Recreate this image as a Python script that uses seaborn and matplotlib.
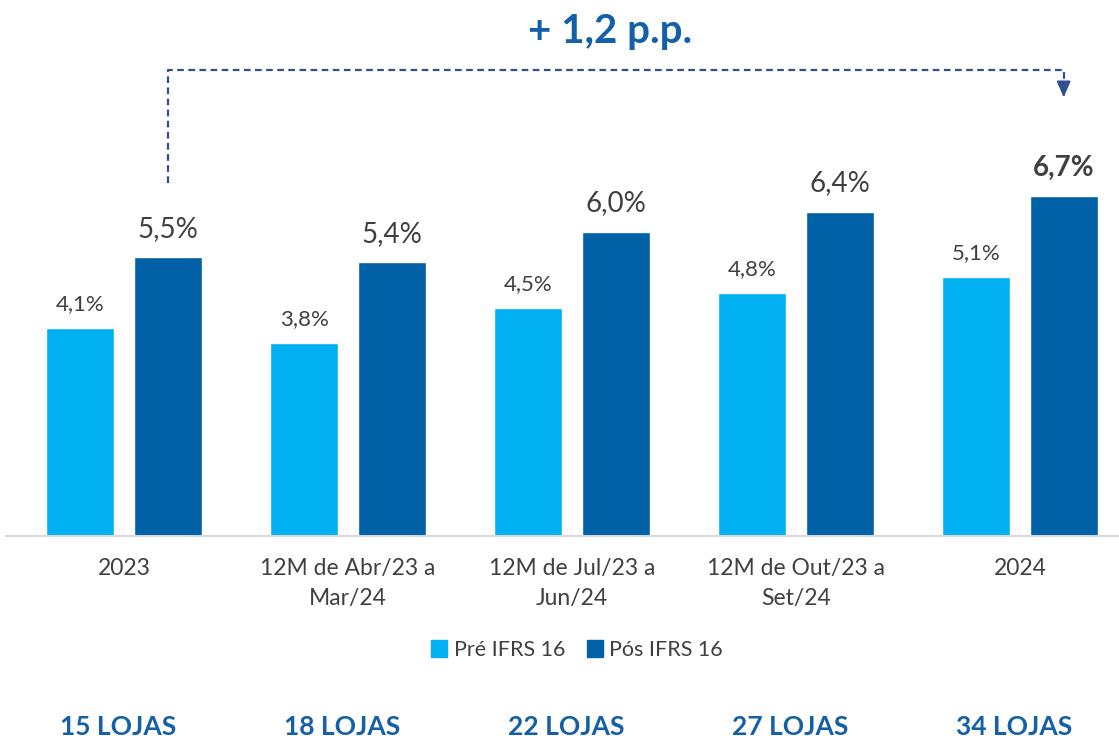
import matplotlib
matplotlib.use("Agg")
import matplotlib.pyplot as plt
import seaborn as sns
import pandas as pd

# data
periodos = ["2023", "12M de Abr/23 a\nMar/24", "12M de Jul/23 a\nJun/24",
            "12M de Out/23 a\nSet/24", "2024"]
pre_ifrs = [4.1, 3.8, 4.5, 4.8, 5.1]
pos_ifrs = [5.5, 5.4, 6.0, 6.4, 6.7]
series = ["Pré IFRS 16", "Pós IFRS 16"]
lojas = ["15 LOJAS", "18 LOJAS", "22 LOJAS", "27 LOJAS", "34 LOJAS"]
delta_txt = "+ 1,2 p.p."

cor_pre = "#00B0F0"
cor_pos = "#0061A6"
cor_txt = "#404040"
cor_azul = "#135FA8"

df = pd.DataFrame({
    "periodo": periodos * 2,
    "valor": pre_ifrs + pos_ifrs,
    "serie": [series[0]] * len(periodos) + [series[1]] * len(periodos),
})

sns.set_theme(style="white")
plt.rcParams["font.family"] = ["Lato", "DejaVu Sans"]

fig = plt.figure(figsize=(11.19, 7.41), dpi=100)
px = 50.7  # pixels per percentage point
ax = fig.add_axes([6 / 1119, (741 - 536) / 741, 1113 / 1119, 536 / 741])

sns.barplot(data=df, x="periodo", y="valor", hue="serie", order=periodos,
            palette=[cor_pre, cor_pos], width=0.78, gap=0.22, ax=ax,
            legend=False, saturation=1)

ax.set_xlim((6 - 124) / 224, (1119 - 124) / 224)
ax.set_ylim(0, 536 / px)
ax.set_xlabel("")
ax.set_ylabel("")
ax.set_yticks([])
for s in ["top", "right", "left"]:
    ax.spines[s].set_visible(False)
ax.spines["bottom"].set_color("#D9D9D9")
ax.spines["bottom"].set_linewidth(1.5)
ax.tick_params(axis="x", length=0, pad=16, labelsize=16.5, labelcolor=cor_txt)
for t in ax.get_xticklabels():
    t.set_linespacing(1.5)

# value labels
pre_bars, pos_bars = ax.containers[0], ax.containers[1]
ax.bar_label(pre_bars, labels=[f"{v:.1f}%".replace(".", ",") for v in pre_ifrs],
             padding=10, fontsize=16, color=cor_txt)
lbls = ax.bar_label(pos_bars, labels=[f"{v:.1f}%".replace(".", ",") for v in pos_ifrs],
                    padding=11, fontsize=20, color=cor_txt)
lbls[-1].set_fontweight("bold")

# dashed bracket between 2023 and 2024
p0 = pos_bars[0]
p1 = pos_bars[-1]
x0 = p0.get_x() + p0.get_width() / 2
x1 = p1.get_x() + p1.get_width() / 2
y_top = (536 - 70) / px
y_start = (536 - 183) / px
y_tip = (536 - 100) / px
ax.plot([x0, x0, x1, x1], [y_start, y_top, y_top, y_tip + 0.15],
        ls=(0, (3, 2)), color="#2F4F8F", lw=1.6, clip_on=False)
ax.annotate("", xy=(x1, y_tip), xytext=(x1, y_tip + 0.2),
            arrowprops=dict(arrowstyle="-|>,head_width=0.35,head_length=0.8",
                            color="#2F4F8F", lw=1.4), annotation_clip=False)

fig.text(610 / 1119, 1 - 32 / 741, delta_txt, ha="center", va="center",
         fontsize=29, fontweight="bold", color=cor_azul)

# legend
handles = [plt.Rectangle((0, 0), 1, 1, color=c) for c in [cor_pre, cor_pos]]
fig.legend(handles, series, loc="center", bbox_to_anchor=(577 / 1119, 1 - 650 / 741),
           ncol=2, frameon=False, fontsize=15.5, handlelength=0.75, handleheight=0.8,
           handletextpad=0.3, columnspacing=1.0, labelcolor=cor_txt)

# store counts
for i, txt in enumerate(lojas):
    xf = (i * 224 + 118) / 1119
    fig.text(xf, 1 - 727 / 741, txt, ha="center", va="center",
             fontsize=19, fontweight="bold", color=cor_azul)

fig.savefig("out.png", dpi=100)
